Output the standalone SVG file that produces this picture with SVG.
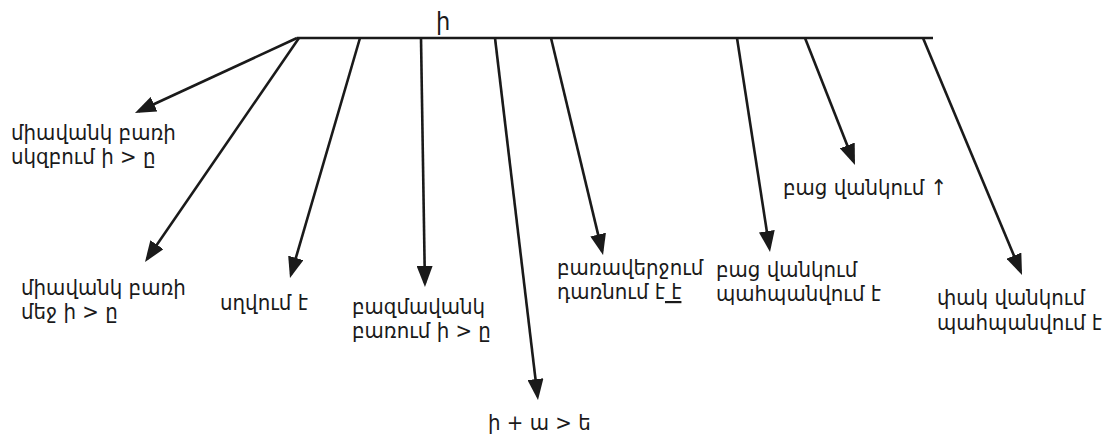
<svg xmlns="http://www.w3.org/2000/svg" width="1109" height="435" viewBox="0 0 1109 435">
<style>
.lbl{font-family:"DejaVu Sans Condensed","DejaVu Sans",sans-serif;font-size:22px;fill:#1a1a1a}
.top{font-family:"DejaVu Sans Condensed","DejaVu Sans",sans-serif;font-size:25px;fill:#1a1a1a}
.con line{stroke:#1a1a1a;stroke-width:2.6;fill:none}
.arr{marker-end:url(#ah)}
</style>
<defs>
<marker id="ah" markerUnits="userSpaceOnUse" markerWidth="21" markerHeight="16" refX="17" refY="8" orient="auto">
<path d="M0,0 L21,8 L0,16 z" fill="#1a1a1a"/>
</marker>
</defs>
<rect width="1109" height="435" fill="#fff"/>
<g id="root">
<text class="top" x="436" y="30">ի</text>
</g>
<g class="con" id="connectors">
<line x1="297" y1="38" x2="933" y2="38" stroke-width="3"/>
<line class="arr" x1="297" y1="38" x2="138.6" y2="111.3"/>
<line class="arr" x1="299" y1="38" x2="147.3" y2="258.7"/>
<line class="arr" x1="360" y1="38" x2="291.1" y2="274.2"/>
<line class="arr" x1="421" y1="38" x2="424.9" y2="283"/>
<line class="arr" x1="495" y1="38" x2="537.5" y2="396"/>
<line class="arr" x1="551" y1="38" x2="602.1" y2="251.1"/>
<line class="arr" x1="737" y1="38" x2="769.4" y2="248"/>
<line class="arr" x1="805" y1="38" x2="853.5" y2="161.3"/>
<line class="arr" x1="923" y1="38" x2="1020.5" y2="271.3"/>
</g>
<g id="n1"><text class="lbl" x="11" y="140">միավանկ բառի</text><text class="lbl" x="11" y="164">սկզբում ի &gt; ը</text></g>
<g id="n2"><text class="lbl" x="21" y="295">միավանկ բառի</text><text class="lbl" x="21" y="319">մեջ ի &gt; ը</text></g>
<g id="n3"><text class="lbl" x="220" y="310">սղվում է</text></g>
<g id="n4"><text class="lbl" x="352" y="314">բազմավանկ</text><text class="lbl" x="352" y="338">բառում ի &gt; ը</text></g>
<g id="n5"><text class="lbl" x="488" y="430">ի + ա &gt; ե</text></g>
<g id="n6"><text class="lbl" x="557" y="275">բառավերջում</text><text class="lbl" x="557" y="299">դառնում է<tspan text-decoration="underline"> է</tspan></text></g>
<g id="n7"><text class="lbl" x="716" y="277">բաց վանկում</text><text class="lbl" x="716" y="301">պահպանվում է</text></g>
<g id="n8"><text class="lbl" x="783" y="195">բաց վանկում ↑</text></g>
<g id="n9"><text class="lbl" x="937" y="305">փակ վանկում</text><text class="lbl" x="937" y="330">պահպանվում է</text></g>
</svg>
